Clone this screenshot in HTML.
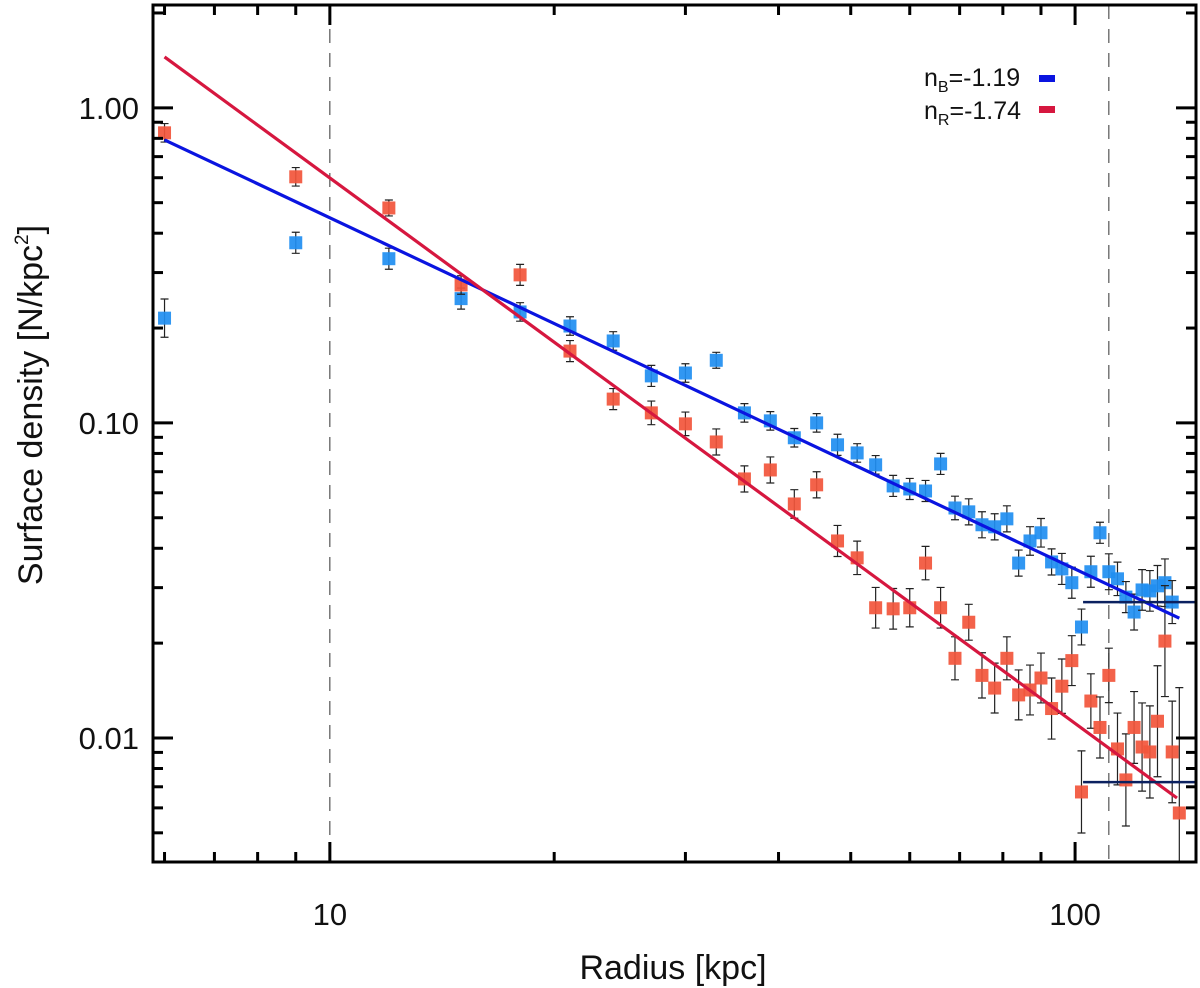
<!DOCTYPE html>
<html><head><meta charset="utf-8"><style>
html,body{margin:0;padding:0;background:#fff;}
svg{display:block;font-family:"Liberation Sans",Arial,sans-serif;}
</style></head><body>
<svg id="chart" width="1200" height="988" viewBox="0 0 1200 988" xmlns="http://www.w3.org/2000/svg">
<g id="plot"></g>
</svg>
<script>
const radiiBlue=[6,9,12,15,18,21,24,27,30,33,36,39,42,45,48,51,54,57,60,63,66,69,72,75,78,81,84,87,90,93,96,99,102,105,108,111,114,117,120,123,126,129,132,135];
const densityBlue=[0.215,0.373,0.332,0.248,0.225,0.203,0.182,0.141,0.144,0.158,0.1076,0.1015,0.0897,0.1,0.0852,0.0803,0.0736,0.0631,0.0617,0.0608,0.0741,0.0537,0.0522,0.0475,0.0468,0.0496,0.0359,0.0422,0.0448,0.0362,0.0344,0.0311,0.0225,0.0337,0.0448,0.0337,0.032,0.028,0.0251,0.0295,0.0293,0.0304,0.0311,0.027];
const errBlue=[0.15,0.08,0.08,0.08,0.07,0.07,0.07,0.08,0.07,0.06,0.07,0.07,0.07,0.07,0.08,0.07,0.07,0.08,0.08,0.08,0.08,0.09,0.1,0.1,0.1,0.1,0.1,0.11,0.11,0.1,0.12,0.12,0.14,0.12,0.08,0.14,0.13,0.12,0.14,0.16,0.16,0.16,0.19,0.17];
const radiiRed=[6,9,12,15,18,21,24,27,30,33,36,39,42,45,48,51,54,57,60,63,66,69,72,75,78,81,84,87,90,93,96,99,102,105,108,111,114,117,120,123,126,129,132,135,138];
const densityRed=[0.833,0.604,0.481,0.274,0.295,0.169,0.119,0.1076,0.0993,0.087,0.0664,0.0709,0.0553,0.0636,0.0422,0.0373,0.0259,0.0257,0.0259,0.0359,0.0259,0.0179,0.0233,0.0158,0.0144,0.0179,0.0137,0.0142,0.0155,0.0124,0.0146,0.0176,0.00674,0.0131,0.0108,0.0158,0.00923,0.00736,0.0108,0.00936,0.00903,0.0113,0.0203,0.00903,0.00578];
const errRed=[0.07,0.07,0.06,0.07,0.08,0.08,0.08,0.09,0.09,0.1,0.1,0.1,0.11,0.1,0.12,0.13,0.16,0.16,0.15,0.13,0.16,0.17,0.14,0.18,0.2,0.17,0.2,0.2,0.2,0.25,0.22,0.2,0.35,0.22,0.25,0.22,0.3,0.4,0.3,0.38,0.4,0.5,0.5,0.45,1.5];
const fitBlueX=[6.0,138];
const fitBlueY=[0.791,0.024];
const fitRedX=[6.0,137];
const fitRedY=[1.45,0.00645];
const flatX=[102.5,145];
const flatY=[0.027,0.00724];
const dashedX=[10,111];
const xTickLabels=["10","100"];
const xTickValues=[10,100];
const yTickLabels=["1.00","0.10","0.01"];
const yTickValues=[1,0.1,0.01];

const L=153,R=1196,T=5,B=862;
const XMIN=5.79,XMAX=145.3,YMIN=0.00404,YMAX=2.12;
const lg=Math.log10;
function sx(v){return L+(lg(v)-lg(XMIN))/(lg(XMAX)-lg(XMIN))*(R-L);}
function sy(v){return B-(lg(v)-lg(YMIN))/(lg(YMAX)-lg(YMIN))*(B-T);}
const NS="http://www.w3.org/2000/svg";
const svg=document.getElementById('chart');
const plot=document.getElementById('plot');
function mk(tag,attrs,parent){const e=document.createElementNS(NS,tag);for(const k in attrs)e.setAttribute(k,attrs[k]);(parent||svg).appendChild(e);return e;}

const defs=mk('defs',{});
const cp=mk('clipPath',{id:'clip'},defs);
mk('rect',{x:L,y:T,width:R-L,height:B-T},cp);
plot.setAttribute('clip-path','url(#clip)');

dashedX.forEach(v=>{
  const l=mk('line',{x1:sx(v),x2:sx(v),y1:T,y2:B,stroke:'#333','stroke-width':1,'stroke-dasharray':'14 10'},plot);
  
  
});

function series(xs,ys,es,color,name){
  const g=mk('g',{},plot);
  
  
  xs.forEach((x,i)=>{
    const px=sx(x),py=sy(ys[i]);
    const hi=sy(ys[i]*(1+es[i])),lo=sy(ys[i]/(1+es[i]));
    const eb=mk('path',{d:`M${px},${hi}V${lo}M${px-4},${hi}H${px+4}M${px-4},${lo}H${px+4}`,stroke:'#222','stroke-width':1.2,fill:'none'},g);
    
    
    const r=mk('rect',{x:px-6.5,y:py-6.5,width:13,height:13,fill:color,opacity:0.92},g);
    
    
  });
}
series(radiiBlue,densityBlue,errBlue,'#1f8ef1','blue');
series(radiiRed,densityRed,errRed,'#f2553b','red');

const fb=mk('line',{x1:sx(fitBlueX[0]),y1:sy(fitBlueY[0]),x2:sx(fitBlueX[1]),y2:sy(fitBlueY[1]),stroke:'#0a14e0','stroke-width':3.2},plot);


const fr=mk('line',{x1:sx(fitRedX[0]),y1:sy(fitRedY[0]),x2:sx(fitRedX[1]),y2:sy(fitRedY[1]),stroke:'#d6173f','stroke-width':3.2},plot);


flatY.forEach(v=>{
  const l=mk('line',{x1:sx(flatX[0]),x2:sx(flatX[1]),y1:sy(v),y2:sy(v),stroke:'#0b2160','stroke-width':2.5},plot);
  
  
});

const fr2=mk('rect',{x:L,y:T,width:R-L,height:B-T,fill:'none',stroke:'#000','stroke-width':3});



const ticks=mk('g',{stroke:'#000','stroke-width':3});


for(let d=0;d<=2;d++){for(let m=1;m<10;m++){const v=m*Math.pow(10,d);if(v<XMIN||v>XMAX)continue;const x=sx(v);const len=m===1?20:10;
  mk('line',{x1:x,x2:x,y1:B,y2:B-len},ticks);mk('line',{x1:x,x2:x,y1:T,y2:T+len},ticks);}}
for(let d=-3;d<=0;d++){for(let m=1;m<10;m++){const v=m*Math.pow(10,d);if(v<YMIN||v>YMAX)continue;const y=sy(v);const len=m===1?20:10;
  mk('line',{x1:L,x2:L+len,y1:y,y2:y},ticks);mk('line',{x1:R,x2:R-len,y1:y,y2:y},ticks);}}

xTickLabels.forEach((t,i)=>{
  const e=mk('text',{x:sx(xTickValues[i]),y:925,'text-anchor':'middle','font-size':31,fill:'#111'});
  e.textContent=t;
  
  
});
yTickLabels.forEach((t,i)=>{
  const e=mk('text',{x:139,y:sy(yTickValues[i])+11,'text-anchor':'end','font-size':31,fill:'#111'});
  e.textContent=t;
  
  
});
</script>
<svg style="position:absolute;left:0;top:0" width="1200" height="988" xmlns="http://www.w3.org/2000/svg">
<text x="673" y="979" text-anchor="middle" font-size="34" fill="#111" font-family="Liberation Sans, sans-serif">Radius [kpc]</text>
<text transform="translate(42,405) rotate(-90)" text-anchor="middle" font-size="34" fill="#111" font-family="Liberation Sans, sans-serif">Surface density [N/kpc<tspan dy="-14" font-size="19">2</tspan><tspan dy="14">]</tspan></text>
<g font-family="Liberation Sans, sans-serif" fill="#111">
<text x="924" y="86" font-size="25">n<tspan dy="6" font-size="16">B</tspan><tspan dy="-6">=-1.19</tspan></text>
<rect x="1039" y="75" width="16" height="7" fill="#0a14e0"/>
<text x="924" y="119" font-size="25">n<tspan dy="6" font-size="16">R</tspan><tspan dy="-6">=-1.74</tspan></text>
<rect x="1039" y="106" width="16" height="7" fill="#d6173f"/>
</g>
</svg>
</body></html>
